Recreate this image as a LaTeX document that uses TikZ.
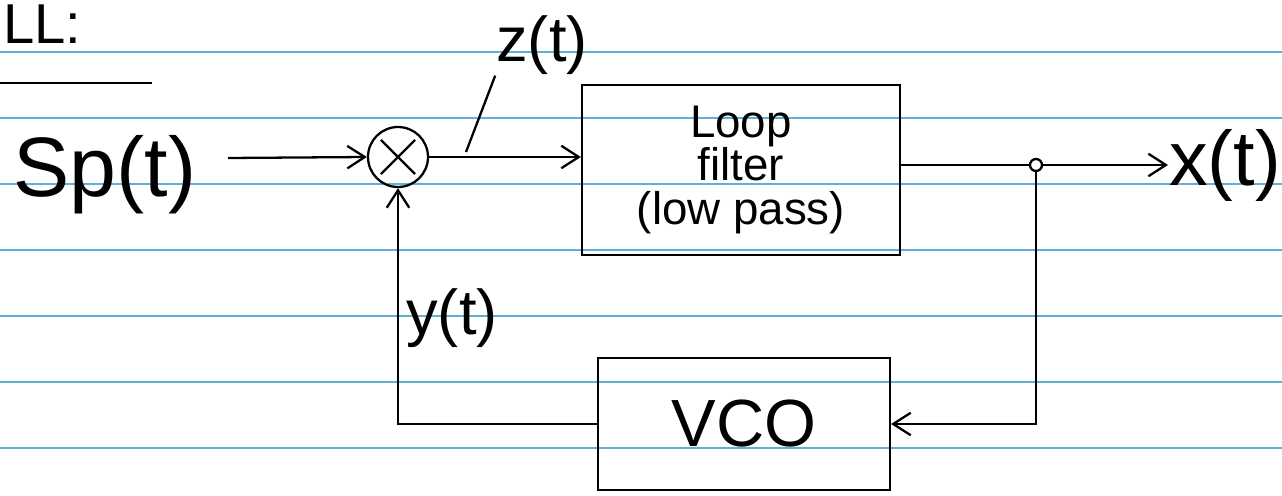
\documentclass[tikz,border=0pt]{standalone}
\usepackage{fontspec}
\setmainfont{Liberation Sans}
\usetikzlibrary{arrows.meta}
\definecolor{ruleblue}{RGB}{95,175,215}
\begin{document}
\begin{tikzpicture}[x=0.02cm,y=-0.02cm,line width=1.3pt,
	  rule/.style={draw=ruleblue,line width=1.2pt},
	  blk/.style={draw,rectangle,inner sep=0pt},
	  wire/.style={-{Straight Barb[length=3.5mm,width=4.5mm]}},
	  lbl/.style={inner sep=0pt}]
	  \useasboundingbox (0,0) rectangle (1282,496);
	  % notebook rules
	  \foreach \y in {52,118,184,250,316,382,448}{%
		\draw[rule] (0,\y) -- (1282,\y);
	  }
	  \node[lbl,anchor=south west,font=\fontsize{32}{32}\selectfont] (title) at (2,45) {LL:};
	  \draw (0,83) -- (152,83);
	  \node[lbl,font=\fontsize{48}{48}\selectfont] (sp) at (105,175) {Sp(t)};
	  \coordinate (spout) at (228,158);
	  \node[circle,draw,minimum size=1.2cm,inner sep=0pt] (mult) at (398,157) {};
	  \draw[shorten >=4pt,shorten <=4pt] (mult.north west) -- (mult.south east);
	  \draw[shorten >=4pt,shorten <=4pt] (mult.north east) -- (mult.south west);
	  \node[blk,minimum width=6.36cm,minimum height=3.4cm,align=center,
		font=\fontsize{26}{25}\selectfont] (filt) at (741,170) {Loop\\filter\\(low pass)};
	  \node[blk,minimum width=5.84cm,minimum height=2.64cm,
		font=\fontsize{38}{38}\selectfont] (vco) at (744,424) {VCO};
	  \node[circle,draw,minimum size=0.24cm,inner sep=0pt] (junc) at (1036,165) {};
	  \node[lbl,anchor=west,font=\fontsize{44}{44}\selectfont] (out) at (1168,165) {x(t)};
	  \node[lbl,font=\fontsize{36}{36}\selectfont] (zlab) at (542,45) {z(t)};
	  \node[lbl,font=\fontsize{36}{36}\selectfont] (ylab) at (452,318) {y(t)};
	  \coordinate (ztick) at (466,152);
	  % connectors
	  \draw[wire] (spout) -- (mult.west);
	  \draw[wire] (mult.east) -- (mult.east -| filt.west);
	  \draw (ztick) -- (zlab.south west);
	  \draw (junc -| filt.east) -- (junc.west);
	  \draw[wire] (junc.east) -- (out.west);
	  \draw[wire] (junc.south) |- (vco.east);
	  \draw[wire] (vco.west) -| (mult.south);
	\end{tikzpicture}
\end{document}
